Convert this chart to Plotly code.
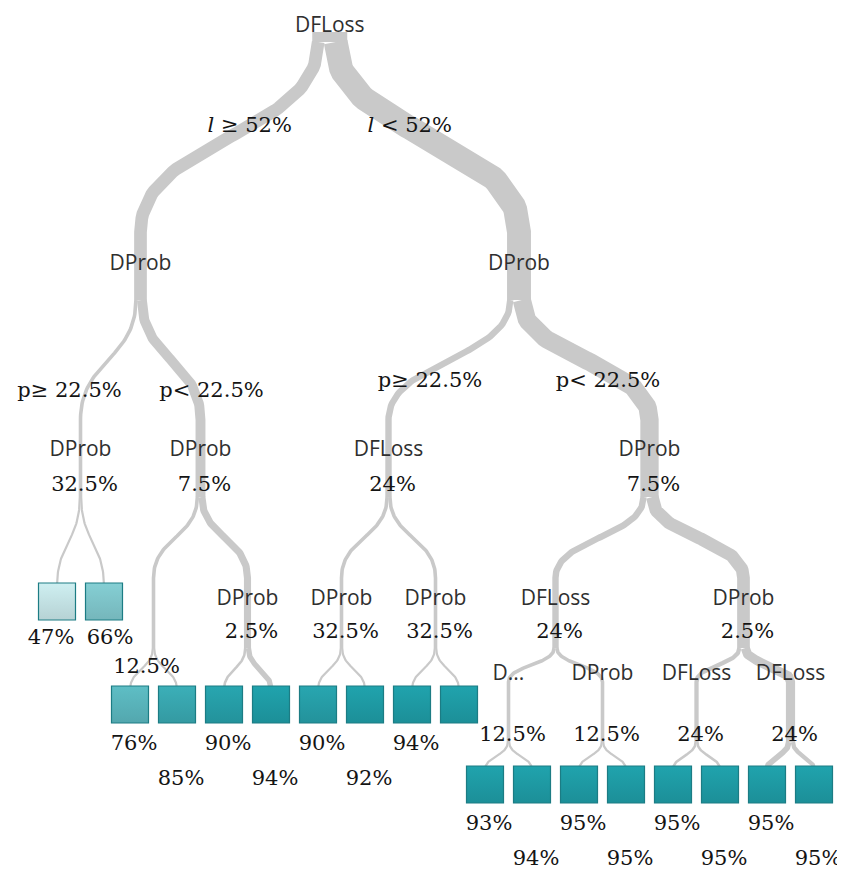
import numpy as np
import plotly.graph_objects as go

# ---------------- data ----------------
# tree in pre-order: parent index of every node (-1 = root)
node_parent = [-1, 0, 1, 2, 2, 1, 5, 6, 6, 5, 9, 9,
               0, 12, 13, 14, 14, 13, 17, 17,
               12, 20, 21, 22, 22, 21, 25, 25, 20, 28, 29, 29, 28, 32, 32]
# split variable shown at each internal node (None = leaf, "" = hidden)
node_name = ["DFLoss", "DProb", "DProb", None, None, "DProb", "", None, None, "DProb", None, None,
             "DProb", "DFLoss", "DProb", None, None, "DProb", None, None,
             "DProb", "DFLoss", "D...", None, None, "DProb", None, None,
             "DProb", "DFLoss", None, None, "DFLoss", None, None]
# split threshold shown under the variable name
node_threshold = [None, None, "32.5%", None, None, "7.5%", "12.5%", None, None, "2.5%", None, None,
                  None, "24%", "32.5%", None, None, "32.5%", None, None,
                  "7.5%", "24%", "12.5%", None, None, "12.5%", None, None,
                  "2.5%", "24%", None, None, "24%", None, None]
# condition text written on the upper branches
edge_text = [None, "<i>l</i> ≥ 52%", "p≥ 22.5%", None, None, "p< 22.5%", None, None, None, None, None, None,
             "<i>l</i> < 52%", "p≥ 22.5%", None, None, None, None, None, None,
             "p< 22.5%"] + [None] * 14
# leaves, left to right: accuracy (%) and share of samples (%)
leaf_accuracy = [47, 66, 76, 85, 90, 94, 90, 92, 94, None, 93, 94, 95, 95, 95, 95, 95, 95]
leaf_share = [4, 4, 4, 4, 5, 13, 4, 4, 4, 4, 4, 4, 4, 4, 5, 5, 14, 10]

# ---------------- layout helpers ----------------
n = len(node_parent)
children = {i: [] for i in range(n)}
for i, p in enumerate(node_parent):
    if p >= 0:
        children[p].append(i)
depth = [0] * n
for i in range(n):
    p = node_parent[i]
    depth[i] = 0 if p < 0 else depth[p] + 1
leaves = [i for i in range(n) if not children[i]]

STEP, SHIFT, FIRST = 47, 26, 57
x = [0.0] * n
prev = None
for i in leaves:
    x[i] = FIRST if prev is None else x[prev] + (STEP if depth[i] == depth[prev] else SHIFT)
    prev = i
share = [0.0] * n
acc = {}
for j, i in enumerate(leaves):
    share[i] = leaf_share[j]
    acc[i] = leaf_accuracy[j]
for i in reversed(range(n)):
    if children[i]:
        x[i] = float(np.mean([x[c] for c in children[i]]))
        share[i] = sum(share[c] for c in children[i])

K = 0.35                     # px per % of samples
SPLIT = {0: 42, 1: 300, 2: 497, 3: 648, 4: 742}
ARRIVE = {1: 232, 2: 420, 3: 578, 4: 682}
BOX_TOP = {3: 583, 4: 686, 5: 766}
BOX = 37
NAME_Y = {0: 27, 1: 265, 2: 451, 3: 600, 4: 675}
VAL_Y = {2: 486, 3: 633, 4: 736}
label_nudge = {6: (-7, 35)}
edge_pos = {0: (80, 127), 1: (71, 392), 12: (89, 382)}

RIB = "#c9c9c9"
NAME_FONT = dict(family="Open Sans", size=21, color="#2f2f2f")
VAL_FONT = dict(family="DejaVu Serif", size=21, color="#141414")


def bez(x0, y0, x1, y1, m=60):
    t = np.linspace(0, 1, m)
    ym = (y0 + y1) / 2
    bx = (1 - t) ** 3 * x0 + 3 * (1 - t) ** 2 * t * x0 + 3 * (1 - t) * t ** 2 * x1 + t ** 3 * x1
    by = (1 - t) ** 3 * y0 + 3 * (1 - t) ** 2 * t * ym + 3 * (1 - t) * t ** 2 * ym + t ** 3 * y1
    return list(bx), list(by)


fig = go.Figure()

# root stem
fig.add_trace(go.Scatter(x=[x[0], x[0]], y=[32, SPLIT[0]], mode="lines",
                         line=dict(color=RIB, width=share[0] * K), hoverinfo="skip"))
# ribbons
for p in range(n):
    if not children[p]:
        continue
    W = share[p] * K
    off = x[p] - W / 2
    for c in children[p]:
        w = share[c] * K
        sx = off + w / 2
        off += w
        y0 = SPLIT[depth[p]]
        if children[c]:
            bx, by = bez(sx, y0, x[c], ARRIVE[depth[c]])
            bx.append(x[c]); by.append(SPLIT[depth[c]])
        else:
            bx, by = bez(sx, y0, x[c], BOX_TOP[depth[c]] + 4)
        fig.add_trace(go.Scatter(x=bx, y=by, mode="lines",
                                 line=dict(color=RIB, width=w + 0.8), hoverinfo="skip"))


def leaf_color(v, dark=0.0):
    if v is None:
        v = 95
    t = min(max((v - 45) / (92 - 45), 0), 1)
    a = np.array([214, 242, 244]); b = np.array([32, 163, 173])
    c = (a + (b - a) * t) * (1 - dark)
    r, g, bb = c.round().astype(int)
    return f"rgb({r},{g},{bb})"


# leaf boxes
fig.add_trace(go.Scatter(
    x=[x[i] for i in leaves], y=[BOX_TOP[depth[i]] + BOX / 2 for i in leaves],
    mode="markers",
    marker=dict(symbol="square", size=BOX, color=[leaf_color(acc[i]) for i in leaves],
                gradient=dict(type="vertical", color=[leaf_color(acc[i], 0.12) for i in leaves]),
                line=dict(color="#1c7c84", width=1.2)),
    hoverinfo="skip"))

# node names / thresholds
nx, ny, nt = [], [], []
vx, vy, vt = [], [], []
for i in range(n):
    if node_name[i]:
        nx.append(x[i]); ny.append(NAME_Y[depth[i]]); nt.append(node_name[i])
    if node_threshold[i]:
        dx, dy = label_nudge.get(i, (4, 0))
        vx.append(x[i] + dx); vy.append(VAL_Y[depth[i]] + dy); vt.append(node_threshold[i])
# edge conditions
for i in range(n):
    if edge_text[i]:
        p = node_parent[i]
        off, yy = edge_pos[p]
        side = -1 if children[p].index(i) == 0 else 1
        vx.append(x[p] + side * off); vy.append(yy); vt.append(edge_text[i])
# leaf values
rows = {}
for i in leaves:
    rows.setdefault(depth[i], []).append(i)
for d, row in rows.items():
    bottom = BOX_TOP[d] + BOX
    for j, i in enumerate(row):
        if acc[i] is None:
            continue
        if len(row) > 2:
            yy = bottom + (22 if j % 2 == 0 else 57)
            xx = x[i] + 4
        else:
            yy = bottom + 19
            xx = x[i] + (j - (len(row) - 1) / 2) * 12
        vx.append(xx); vy.append(yy); vt.append(f"{acc[i]}%")

fig.add_trace(go.Scatter(x=nx, y=ny, text=nt, mode="text", textfont=NAME_FONT,
                         textposition="middle center", hoverinfo="skip", cliponaxis=False))
fig.add_trace(go.Scatter(x=vx, y=vy, text=vt, mode="text", textfont=VAL_FONT,
                         textposition="middle center", hoverinfo="skip", cliponaxis=False))

# the page body has an 8px margin: offset the ranges so page pixels match
PAD = 8
fig.update_layout(
    width=845, height=878, margin=dict(l=0, r=0, t=0, b=0),
    paper_bgcolor="white", plot_bgcolor="white", showlegend=False,
    xaxis=dict(visible=False, range=[PAD, 845 + PAD], fixedrange=True),
    yaxis=dict(visible=False, range=[878 + PAD, PAD], fixedrange=True),
)
fig.write_html("out.html")
